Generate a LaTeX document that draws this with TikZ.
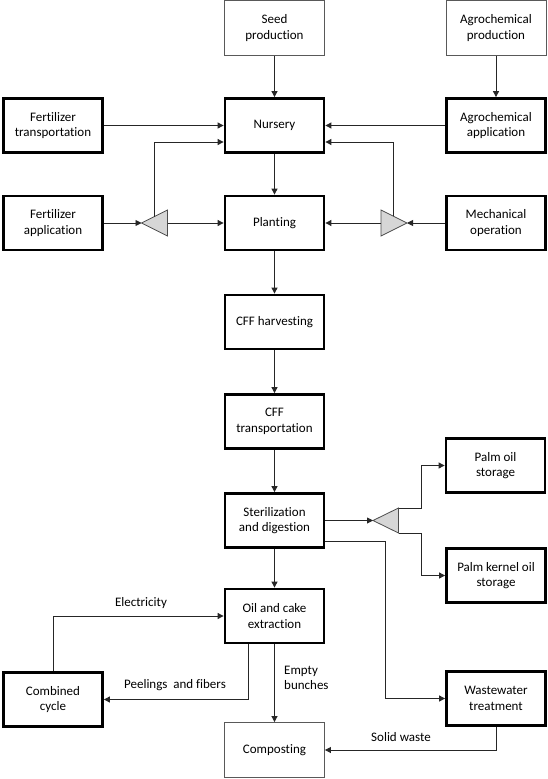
\documentclass[tikz,border=0pt]{standalone}
\usepackage{fontspec}
\setmainfont[Ligatures={NoCommon,NoContextual},Contextuals=NoAlternate]{Carlito}
\usetikzlibrary{arrows.meta,calc}
\begin{document}
\begin{tikzpicture}[x=1pt,y=-1pt,
  font=\fontsize{13}{15.5}\selectfont,
  thickbox/.style={draw=black,line width=2.8pt,minimum width=99pt,minimum height=54pt,align=center,inner sep=2pt},
  thinbox/.style={draw=black!65,line width=0.9pt,minimum width=100pt,minimum height=55pt,align=center,inner sep=2pt},
  flow/.style={draw=black!85,line width=0.9pt,-{Triangle[length=6pt,width=6pt]}},
  splitter/.style={fill=black!16,draw=black!70,line width=0.8pt},
  lbl/.style={inner sep=0pt}
]
\useasboundingbox[fill=white] (0,0) rectangle (548,779);

% boxes
\node[thinbox]  (seed)      at (274.5,28)   {Seed\\production};
\node[thinbox]  (agroprod)  at (496,28)     {Agrochemical\\production};
\node[thickbox] (fertrans)  at (53,125.5)   {Fertilizer\\transportation};
\node[thickbox] (nursery)   at (274.5,125.5){Nursery};
\node[thickbox] (agroapp)   at (496,125.5)  {Agrochemical\\application};
\node[thickbox] (fertapp)   at (53,223)     {Fertilizer\\application};
\node[thickbox] (planting)  at (274.5,223)  {Planting};
\node[thickbox] (mech)      at (496,223)    {Mechanical\\operation};
\node[thickbox] (harvest)   at (274.5,322)  {CFF harvesting};
\node[thickbox] (transport) at (274.5,421.5){CFF\\transportation};
\node[thickbox] (steril)    at (274.5,520.5){Sterilization\\and digestion};
\node[thickbox] (palmoil)   at (495.5,465.5){Palm oil\\storage};
\node[thickbox] (kernel)    at (496,575.5)  {Palm kernel oil\\storage};
\node[thickbox] (oil)       at (274.5,616)  {Oil and cake\\extraction};
\node[thickbox] (combined)  at (53,699.5)   {Combined\\cycle};
\node[thickbox] (waste)     at (496,698.5)  {Wastewater\\treatment};
\node[thinbox]  (compost)   at (274.5,750)  {Composting};

% splitters
\coordinate (ltip) at (141.5,223);
\coordinate (lbt)  at (167.5,210);
\coordinate (lbb)  at (167.5,236);
\coordinate (lbase) at (167.5,223);
\coordinate (lup)  at (154,216.8);
\filldraw[splitter] (ltip) -- (lbt) -- (lbb) -- cycle;

\coordinate (rtip) at (407,223);
\coordinate (rbt)  at (381,210);
\coordinate (rbb)  at (381,236);
\coordinate (rbase) at (381,223);
\coordinate (rup)  at (393,216);
\filldraw[splitter] (rtip) -- (rbt) -- (rbb) -- cycle;

\coordinate (stip) at (373,520.5);
\coordinate (sbt)  at (398.5,508);
\coordinate (sbb)  at (398.5,533);
\filldraw[splitter] (stip) -- (sbt) -- (sbb) -- cycle;

% connectors
\coordinate (nwlow) at ($(nursery.west)+(0,16.5)$);
\coordinate (nelow) at ($(nursery.east)+(0,16.5)$);
\draw[flow] (seed) -- (nursery);
\draw[flow] (agroprod) -- (agroapp);
\draw[flow] (fertrans) -- (nursery);
\draw[flow] (agroapp) -- (nursery);
\draw[flow] (nursery) -- (planting);
\draw[flow] (fertapp) -- (ltip);
\draw[flow] (lbase) -- (planting);
\draw[flow] (lup) |- (nwlow);
\draw[flow] (mech) -- (rtip);
\draw[flow] (rbase) -- (planting);
\draw[flow] (rup) |- (nelow);
\draw[flow] (planting) -- (harvest);
\draw[flow] (harvest) -- (transport);
\draw[flow] (transport) -- (steril);
\draw[flow] (steril.east) -- (stip);
\draw[flow] (sbt) -- ++(23,0) |- (palmoil.west);
\draw[flow] (sbb) -- ++(23,0) |- (kernel.west);
\coordinate (swout) at ($(steril.east)+(0,20.5)$);
\draw[flow] (swout) -- ++(60.5,0) |- (waste.west);
\draw[flow] (steril) -- (oil);
\draw[flow] (combined.north) |- (oil.west);
\coordinate (peelout) at ($(oil.south)+(-26.5,0)$);
\draw[flow] (peelout) |- (combined.east);
\draw[flow] (oil) -- (compost);
\draw[flow] (waste.south) |- (compost.east);

% labels
\node[lbl] (elec)  at (141,603) {Electricity};
\node[lbl] (peel)  at (175,685) {Peelings\ \ and fibers};
\node[lbl,align=left,anchor=west] (empty) at (284,678) {Empty\\bunches};
\node[lbl] (solid) at (401,737) {Solid waste};
\end{tikzpicture}
\end{document}
